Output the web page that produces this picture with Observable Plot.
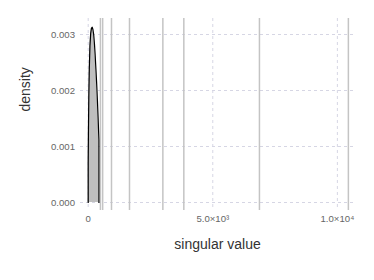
<!DOCTYPE html>
<html>
<head>
<meta charset="utf-8">
<script src="https://cdn.jsdelivr.net/npm/d3@7"></script>
<script src="https://cdn.jsdelivr.net/npm/@observablehq/plot@0.6"></script>
<style>
  html, body { margin: 0; padding: 0; background: #fff; }
</style>
</head>
<body>
<div id="chart"></div>
<script>
// singular values (vertical reference lines)
const singularValues = [490, 580, 935, 1657, 2996, 3838, 6872, 10441];
// kernel density estimate of the singular values
const densityX = [0, 10, 25, 45, 70, 100, 130, 160, 190, 220, 250, 280, 310, 340, 370, 400, 430];
const densityY = [0.0007, 0.0013, 0.0019, 0.0024, 0.0028, 0.00302, 0.00311, 0.00313, 0.00309, 0.003, 0.00284, 0.00263, 0.00238, 0.00212, 0.00182, 0.00148, 0.00112];
const xTicks = [0, 5000, 10000];
const xTickLabels = ["0", "5.0×10³", "1.0×10⁴"];
const yTicks = [0, 0.001, 0.002, 0.003];

const density = densityX.map((x, i) => ({x, y: densityY[i]}));
const outline = [{x: densityX[0], y: 0}, ...density, {x: densityX[densityX.length - 1], y: 0}];

const font = "'Liberation Sans', Arial, Helvetica, sans-serif";
const chart = Plot.plot({
  width: 374,
  height: 280,
  marginLeft: 80,
  marginRight: 20,
  marginTop: 18,
  marginBottom: 70,
  style: {fontFamily: font, background: "#fff"},
  x: {domain: [-309, 10687]},
  y: {domain: [-0.000143, 0.003286]},
  marks: [
    Plot.gridX(xTicks, {stroke: "#d6d6e4", strokeOpacity: 1, strokeDasharray: "3,3", strokeWidth: 1}),
    Plot.gridY(yTicks, {stroke: "#d6d6e4", strokeOpacity: 1, strokeDasharray: "3,3", strokeWidth: 1}),
    Plot.ruleX(singularValues, {stroke: "#c4c4c4", strokeWidth: 1.5}),
    Plot.areaY(density, {x: "x", y: "y", fill: "#bfbfbf"}),
    Plot.line(outline, {x: "x", y: "y", stroke: "#000", strokeWidth: 1.2}),
    Plot.axisX(xTicks, {tickSize: 0, tickPadding: 5, fontSize: 9.6, fill: "#666", label: null,
      tickFormat: (d, i) => xTickLabels[xTicks.indexOf(d)]}),
    Plot.axisY(yTicks, {tickSize: 0, tickPadding: 5.5, fontSize: 9.6, fill: "#666", label: null,
      tickFormat: d3.format(".3f")}),
    Plot.text(["singular value"], {frameAnchor: "bottom", dy: 34, fontSize: 14, fill: "#333", lineAnchor: "middle"}),
    Plot.text(["density"], {frameAnchor: "left", dx: -55, dy: -3, rotate: -90, fontSize: 14, fill: "#333", lineAnchor: "middle"})
  ]
});
document.getElementById("chart").appendChild(chart);
</script>
</body>
</html>
